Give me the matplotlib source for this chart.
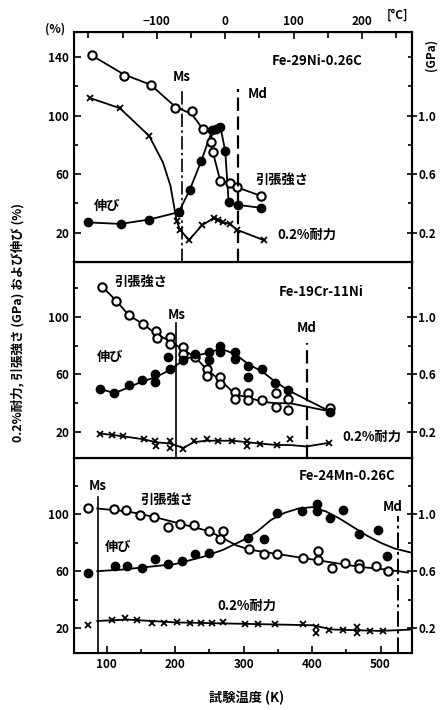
import numpy as np
import matplotlib
matplotlib.use('Agg')
import matplotlib.pyplot as plt
from matplotlib.ticker import MultipleLocator, FixedLocator

plt.rcParams['font.family'] = ['Noto Sans CJK JP', 'DejaVu Sans']
plt.rcParams['font.weight'] = 'bold'

# ---- Fe-29Ni-0.26C (top) ----
ni_ts_k = [78, 125, 164, 200, 224, 240, 252, 255, 266, 280, 290, 326]
ni_ts = [141, 127, 121, 105, 103, 91, 82, 75, 55, 54, 51, 45]
ni_el_k = [73, 120, 162, 205, 221, 238, 254, 260, 266, 273, 278, 291, 325]
ni_el = [27, 26, 29, 34, 49, 69, 90, 91, 92, 76, 41, 39, 37]
ni_ys_k = [75, 119, 162, 202, 207, 220, 239, 256, 263, 270, 280, 290, 329]
ni_ys = [112, 105, 86, 28, 22, 15, 25, 30, 29, 27, 26, 22, 15]
ni_ts_line_k = [78, 125, 164, 200, 224, 240, 254, 252, 255, 266, 280, 290, 326]
ni_ts_line = [141, 128, 121, 106, 101, 91, 90, 82, 75, 55, 54, 51, 45]
ni_el_line_k = [73, 120, 162, 205, 221, 238, 254, 266, 273, 278, 291, 325]
ni_el_line = [27, 26, 29, 34, 49, 69, 90, 92, 76, 41, 39, 37]
ni_ys_line_k = [75, 119, 162, 182, 193, 202, 207, 220, 239, 256, 270, 280, 290, 329]
ni_ys_line = [112, 105, 86, 68, 52, 28, 22, 15, 25, 30, 27, 26, 22, 15]
ni_ms, ni_md = 210, 292

# ---- Fe-19Cr-11Ni (middle) ----
cr_ts_k = [93, 114, 132, 153, 172, 173, 193, 193, 212, 212, 229, 246, 246, 266, 266,
           288, 288, 307, 307, 327, 347, 347, 365, 365, 426]
cr_ts = [121, 111, 101, 95, 90, 85, 86, 81, 79, 74.5, 72, 64, 59, 58, 53.5,
         48, 43, 47, 42, 42, 47, 37.5, 43, 35, 37]
cr_el_k = [90, 111, 132, 151, 171, 171, 190, 193, 212, 229, 249, 249, 266, 266, 288,
           288, 307, 307, 327, 346, 365, 426]
cr_el = [50, 47, 52.5, 56, 60, 55, 72, 64, 70, 74.5, 75.5, 70, 80, 75.5, 75.5,
         71, 66, 58, 64, 54, 49, 34]
cr_ys_k = [90, 108, 124, 154, 171, 172, 193, 193, 212, 227, 246, 263, 283, 305, 305,
           324, 348, 368, 424]
cr_ys = [19, 18, 17, 15.5, 13.5, 10, 13.5, 9, 8.5, 14, 15.5, 14, 14, 14, 10,
         12, 11, 15, 12.5]
cr_ts_line_k = [93, 114, 132, 153, 172, 193, 212, 229, 249, 266, 288, 307, 327, 347, 368, 419, 426]
cr_ts_line = [121, 111, 101, 95, 88, 83, 77, 72, 62, 56, 46, 44, 41, 40, 40, 35, 36]
cr_el_line_k = [90, 111, 132, 151, 171, 192, 212, 229, 249, 266, 288, 307, 327, 346, 365, 419]
cr_el_line = [50, 47, 51, 55, 58, 63, 70, 73, 75, 78, 74, 67, 62, 55, 49, 36]
cr_ys_line_k = [90, 108, 124, 154, 171, 193, 212, 227, 246, 263, 283, 305, 324, 348, 368, 392, 424]
cr_ys_line = [19, 18, 17, 15, 13, 12, 9, 13, 14, 14, 14, 13, 12, 11, 11, 10, 12.5]
cr_ms, cr_md = 201, 392

# ---- Fe-24Mn-0.26C (bottom) ----
mn_ts_k = [73, 110, 128, 149, 169, 190, 207, 227, 249, 270, 266, 308, 329, 348, 387,
           409, 409, 429, 448, 468, 468, 494, 511]
mn_ts = [104.7, 103.5, 103, 99.3, 98.4, 91.3, 93, 92.2, 88.2, 88.2, 82.4, 75.3, 71.8, 71.8, 69.4,
         74.1, 67.8, 62.4, 65.9, 64.7, 62.4, 63.5, 60]
mn_el_k = [73, 112, 130, 151, 171, 190, 210, 229, 250, 307, 329, 348, 385, 407, 407,
           426, 445, 468, 497, 509]
mn_el = [59, 63.5, 63.5, 62.4, 68.7, 64.7, 67.1, 71.8, 72.5, 83.6, 82.9, 100.7, 102.3, 107, 102,
         97, 103, 86, 89, 71]
mn_ys_k = [72, 108, 126, 144, 166, 183, 203, 221, 237, 254, 270, 302, 321, 346, 387,
           406, 406, 424, 445, 466, 466, 485, 504]
mn_ys = [22.4, 26, 27, 26, 23.6, 23.6, 24, 23.6, 23.6, 23.6, 24, 22.9, 22.9, 22.9, 22.9,
         20.8, 16.5, 18.9, 18.9, 20.8, 16.5, 17.7, 17.7]
mn_ts_line_k = [86, 130, 170, 210, 250, 290, 310, 350, 390, 430, 470, 510, 540]
mn_ts_line = [104, 102, 98, 93, 88, 78, 75, 72, 69, 66, 63, 61, 59]
mn_el_line_k = [86, 120, 160, 200, 240, 270, 300, 320, 340, 360, 380, 400, 420, 440, 460, 480, 500, 520, 545]
mn_el_line = [60, 61, 63, 65, 70, 75, 82, 88, 96, 101, 104, 105, 102, 97, 91, 85, 80, 76, 73]
mn_ys_line_k = [86, 130, 200, 300, 400, 430, 500, 545]
mn_ys_line = [25, 26, 24, 23, 22, 19, 18, 19]
mn_ms, mn_md = 86.6, 526

# axis ticks
k_ticks = [100, 200, 300, 400, 500]
c_ticks = [-100, 0, 100, 200]
c_labels = ['\u2212100', '0', '100', '200']
pct_ticks = [20, 60, 100, 140]
gpa_labels = ['0.2', '0.6', '1.0', '1.4']

fig = plt.figure(figsize=(4.4, 7.1), dpi=100)
L, W = 74/440, 338/440
ax1 = fig.add_axes([L, (710-262)/710, W, 230/710])
ax2 = fig.add_axes([L, (710-458)/710, W, 196/710])
ax3 = fig.add_axes([L, (710-653)/710, W, 195/710])

ylims = [(0, 157), (2, 138), (2.5, 139.5)]

def panel(ax, ylim, ts_k, ts, el_k, el, ys_k, ys, tl_k, tl, el_lk, el_l, yl_k, yl):
    ax.plot(tl_k, tl, color='k', lw=1.3)
    ax.plot(el_lk, el_l, color='k', lw=1.3)
    ax.plot(yl_k, yl, color='k', lw=1.3)
    ax.plot(ts_k, ts, 'o', ms=6, mfc='white', mec='k', mew=1.5)
    ax.plot(el_k, el, 'o', ms=6, color='k')
    ax.plot(ys_k, ys, 'x', ms=5, color='k', mew=1.3)
    ax.set_xlim(52, 546)
    ax.set_ylim(*ylim)
    ax.yaxis.set_major_locator(FixedLocator([t for t in pct_ticks if ylim[0] <= t <= ylim[1]]))
    ax.yaxis.set_minor_locator(MultipleLocator(20))
    ax.xaxis.set_major_locator(FixedLocator(k_ticks))
    ax.xaxis.set_minor_locator(MultipleLocator(50))
    ax.tick_params(axis='both', which='both', direction='in', labelsize=8.5, width=1.2)
    ax.tick_params(which='major', length=5)
    ax.tick_params(which='minor', length=3)
    ax.tick_params(axis='x', which='both', top=False)
    for s in ax.spines.values():
        s.set_linewidth(1.5)
    r = ax.twinx()
    r.set_ylim(*ylim)
    rt = [t for t in pct_ticks if ylim[0] <= t <= ylim[1] and t <= 100]
    r.set_yticks(rt)
    r.set_yticklabels([gpa_labels[pct_ticks.index(t)] for t in rt])
    r.yaxis.set_minor_locator(MultipleLocator(20))
    r.tick_params(axis='y', which='major', direction='inout', length=7, width=1.2, labelsize=8.5, pad=1)
    r.tick_params(axis='y', which='minor', direction='in', length=3, width=1.2)
    r.spines['right'].set_linewidth(1.5)

panel(ax1, ylims[0], ni_ts_k, ni_ts, ni_el_k, ni_el, ni_ys_k, ni_ys,
      ni_ts_line_k, ni_ts_line, ni_el_line_k, ni_el_line, ni_ys_line_k, ni_ys_line)
panel(ax2, ylims[1], cr_ts_k, cr_ts, cr_el_k, cr_el, cr_ys_k, cr_ys,
      cr_ts_line_k, cr_ts_line, cr_el_line_k, cr_el_line, cr_ys_line_k, cr_ys_line)
panel(ax3, ylims[2], mn_ts_k, mn_ts, mn_el_k, mn_el, mn_ys_k, mn_ys,
      mn_ts_line_k, mn_ts_line, mn_el_line_k, mn_el_line, mn_ys_line_k, mn_ys_line)

ax1.tick_params(axis='x', which='both', labelbottom=False, bottom=False)
ax2.tick_params(axis='x', which='both', labelbottom=False, bottom=False)

# Celsius axis on top
sec = ax1.secondary_xaxis('top', functions=(lambda k: k - 273, lambda c: c + 273))
sec.set_xticks(c_ticks)
sec.set_xticklabels(c_labels)
sec.xaxis.set_minor_locator(MultipleLocator(50))
sec.tick_params(which='both', direction='in', labelsize=8.5, width=1.2, pad=3)
sec.tick_params(which='major', length=5)
sec.tick_params(which='minor', length=4)

# Ms / Md lines
ax1.plot([ni_ms, ni_ms], [0, 119], color='k', lw=1.2, ls=(0, (8, 2, 1.5, 2)))
ax1.plot([ni_md, ni_md], [0, 118], color='k', lw=1.6, ls=(0, (6, 2.5)))
ax2.plot([cr_ms, cr_ms], [2, 96], color='k', lw=1.2)
ax2.plot([cr_md, cr_md], [2, 82], color='k', lw=1.6, ls=(0, (6, 2.5)))
ax3.plot([mn_ms, mn_ms], [2.5, 112], color='k', lw=1.2)
ax3.plot([mn_md, mn_md], [2.5, 99], color='k', lw=1.4, ls=(0, (8, 2, 1.5, 2)))

fs = 9.5
ax1.text(ni_ms, 126, 'Ms', ha='center', va='center', fontsize=fs)
ax1.text(306, 115, 'Md', ha='left', va='center', fontsize=fs)
ax1.text(407, 137, 'Fe-29Ni-0.26C', ha='center', va='center', fontsize=fs)
ax1.text(356, 56, '引張強さ', ha='center', va='center', fontsize=fs)
ax1.text(101, 38, '伸び', ha='center', va='center', fontsize=fs)
ax1.text(393, 18.5, '0.2%耐力', ha='center', va='center', fontsize=fs)

ax2.text(149, 124, '引張強さ', ha='center', va='center', fontsize=fs)
ax2.text(414, 117, 'Fe-19Cr-11Ni', ha='center', va='center', fontsize=fs)
ax2.text(cr_ms + 1, 101, 'Ms', ha='center', va='center', fontsize=fs)
ax2.text(cr_md, 92, 'Md', ha='center', va='center', fontsize=fs)
ax2.text(105, 72, '伸び', ha='center', va='center', fontsize=fs)
ax2.text(487, 17, '0.2%耐力', ha='center', va='center', fontsize=fs)

ax3.text(451, 127, 'Fe-24Mn-0.26C', ha='center', va='center', fontsize=fs)
ax3.text(mn_ms, 120, 'Ms', ha='center', va='center', fontsize=fs)
ax3.text(188, 110, '引張強さ', ha='center', va='center', fontsize=fs)
ax3.text(117, 77, '伸び', ha='center', va='center', fontsize=fs)
ax3.text(305, 36, '0.2%耐力', ha='center', va='center', fontsize=fs)
ax3.text(518, 105, 'Md', ha='center', va='center', fontsize=fs)

fig.text(55/440, 1 - 29/710, '(%)', ha='center', va='center', fontsize=8.5)
fig.text(397/440, 1 - 15/710, '[°C]', ha='center', va='center', fontsize=8.5)
fig.text(431/440, 1 - 55/710, '(GPa)', ha='center', va='center', fontsize=8.5, rotation=90)
fig.text(18/440, 1 - 322/710, '0.2%耐力, 引張強さ (GPa) および伸び (%)',
         ha='center', va='center', fontsize=9, rotation=90)
fig.text(247/440, 1 - 698/710, '試験温度 (K)', ha='center', va='center', fontsize=9.5)

fig.savefig('out.png', dpi=100)
